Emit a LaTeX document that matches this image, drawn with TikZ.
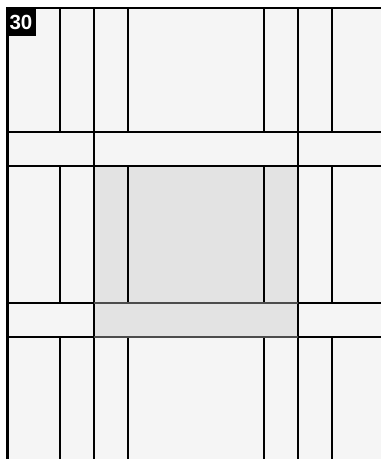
\documentclass[tikz,border=0pt]{standalone}
\usepackage{fontspec}
\setmainfont{Liberation Sans}
\begin{document}
\begin{tikzpicture}[x=1pt,y=-1pt,
  gridline/.style={black,line width=1.1pt},
  grayedge/.style={black!70,line width=1.1pt}]
\useasboundingbox (0,0) rectangle (381,459);
\fill[white] (0,0) rectangle (381,459);
% background
\fill[black!4] (7,8) rectangle (381,459);
% gray region
\fill[black!11] (94,166) rectangle (298,337);
% vertical lines in full regions
\foreach \x in {60,94,128,264,298,332}{
  \draw[gridline] (\x,8) -- (\x,132);
  \draw[gridline] (\x,166) -- (\x,303);
  \draw[gridline] (\x,337) -- (\x,459);
}
% vertical lines in bands
\foreach \x in {94,298}{
  \draw[gridline] (\x,132) -- (\x,166);
  \draw[gridline] (\x,303) -- (\x,337);
}
% horizontal lines
\foreach \y in {132,166}{
  \draw[gridline] (7,\y) -- (381,\y);
}
\draw[gridline] (7,303) -- (94,303);
\draw[grayedge] (94,303) -- (298,303);
\draw[gridline] (298,303) -- (381,303);
\draw[gridline] (7,337) -- (94,337);
\draw[grayedge] (94,337) -- (298,337);
\draw[gridline] (298,337) -- (381,337);
% borders
\draw[black,line width=2pt] (7,8) -- (381,8);
\draw[black,line width=3pt] (7,7) -- (7,459);
% label
\fill[black] (6,7) rectangle (36,36);
\node[text=white,font=\bfseries\fontsize{20.5}{22}\selectfont,inner sep=0pt] (lbl) at (21,22) {30};
\end{tikzpicture}
\end{document}
